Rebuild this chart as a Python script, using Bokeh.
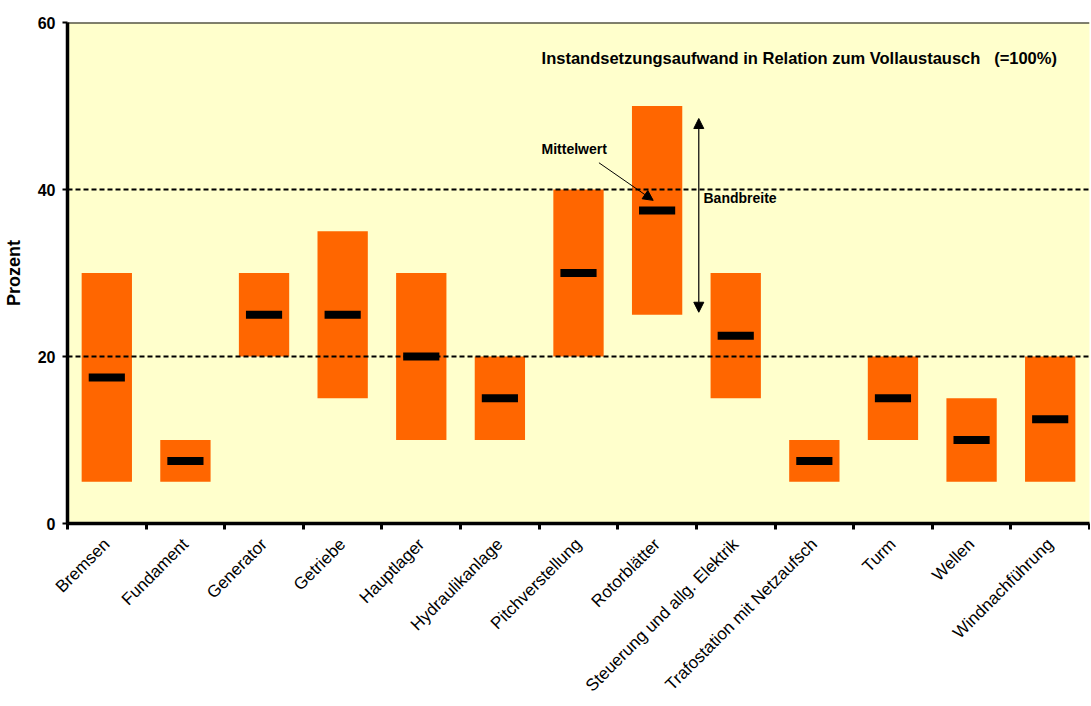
from bokeh.plotting import figure
from bokeh.models import Range1d, FixedTicker, Label, Arrow, NormalHead
from bokeh.embed import file_html
from bokeh.resources import INLINE

categories = ["Bremsen", "Fundament", "Generator", "Getriebe", "Hauptlager",
              "Hydraulikanlage", "Pitchverstellung", "Rotorblätter",
              "Steuerung und allg. Elektrik", "Trafostation mit Netzaufsch",
              "Turm", "Wellen", "Windnachführung"]
low = [5, 5, 20, 15, 10, 10, 20, 25, 15, 5, 10, 5, 5]
high = [30, 10, 30, 35, 30, 20, 40, 50, 30, 10, 20, 15, 20]
mean = [17.5, 7.5, 25, 25, 20, 15, 30, 37.5, 22.5, 7.5, 15, 10, 12.5]
y_ticks = [0, 20, 40, 60]
grid_values = [20, 40]

FONT = "Liberation Sans"
n = len(categories)
centers = [i + 0.5 for i in range(n)]
bounds = list(range(n + 1))

p = figure(width=1090, height=705, output_backend="svg", toolbar_location=None,
           x_range=Range1d(0, n), y_range=Range1d(0, 60),
           min_border_left=67, min_border_top=22, min_border_right=1,
           min_border_bottom=182, border_fill_color="white")
p.background_fill_color = "#FFFFCC"
p.outline_line_color = None
p.xgrid.visible = False
p.ygrid.visible = False

p.vbar(x=centers, bottom=low, top=high, width=0.64, fill_color="#FF6600", line_color=None)
p.hspan(y=grid_values, line_color="black", line_width=2, line_dash="5 3")
p.hspan(y=[y_ticks[-1]], line_color="black", line_width=2)
p.rect(x=centers, y=mean, width=0.46, height=8, height_units="screen",
       fill_color="black", line_color=None)

# x axis
xa = p.xaxis[0]
xa.ticker = FixedTicker(ticks=centers, minor_ticks=bounds)
xa.major_label_overrides = {c: name for c, name in zip(centers, categories)}
xa.major_label_orientation = 0.785398
xa.major_tick_line_color = None
xa.minor_tick_line_color = "black"
xa.minor_tick_line_width = 3
xa.minor_tick_out = 6
xa.minor_tick_in = 0
xa.axis_line_width = 3.5
xa.axis_line_color = "black"
xa.major_label_text_font = FONT
xa.major_label_text_font_size = "17px"
xa.major_label_text_color = "black"
xa.major_label_standoff = 12

# y axis
ya = p.yaxis[0]
ya.ticker = FixedTicker(ticks=y_ticks, minor_ticks=[])
ya.axis_label = "Prozent"
ya.axis_label_text_font = FONT
ya.axis_label_text_font_style = "bold"
ya.axis_label_text_font_size = "18px"
ya.axis_label_text_color = "black"
ya.axis_label_standoff = 11
ya.major_label_text_font = FONT
ya.major_label_text_font_style = "bold"
ya.major_label_text_font_size = "16px"
ya.major_label_text_color = "black"
ya.major_tick_out = 5
ya.major_tick_in = 0
ya.major_tick_line_width = 2
ya.axis_line_width = 3.5
ya.axis_line_color = "black"
ya.major_label_standoff = 7

p.add_layout(Label(x=6.03, y=55.8,
                   text="Instandsetzungsaufwand in Relation zum Vollaustausch \u00a0\u00a0(=100%)",
                   text_font=FONT, text_font_style="bold", text_font_size="16.5px",
                   text_baseline="middle", text_color="black"))
p.add_layout(Label(x=6.03, y=44.8, text="Mittelwert", text_font=FONT, text_font_style="bold",
                   text_font_size="14px", text_baseline="middle", text_color="black"))
p.add_layout(Label(x=8.09, y=39.0, text="Bandbreite", text_font=FONT, text_font_style="bold",
                   text_font_size="14px", text_baseline="middle", text_color="black"))
p.add_layout(Arrow(x_start=6.76, y_start=43.2, x_end=7.45, y_end=38.7, line_width=1,
                   end=NormalHead(size=10, fill_color="black", line_color="black")))
p.add_layout(Arrow(x_start=8.03, y_start=25.3, x_end=8.03, y_end=48.5, line_width=1.2,
                   start=NormalHead(size=10, fill_color="black", line_color="black"),
                   end=NormalHead(size=10, fill_color="black", line_color="black")))

open("out.html", "w").write(file_html(p, INLINE))
